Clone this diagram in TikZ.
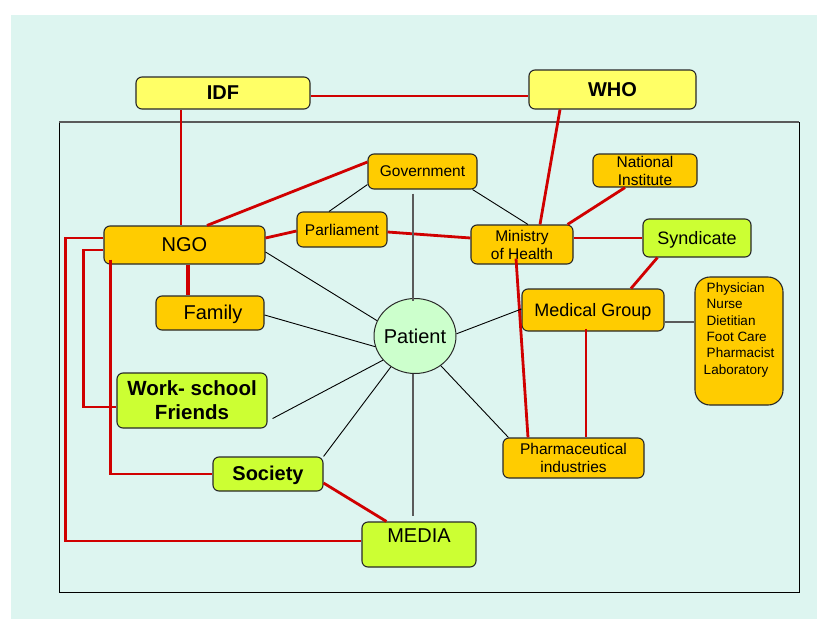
\documentclass[tikz,border=0pt]{standalone}
\usepackage{fontspec}
\setmainfont{Liberation Sans}
\usetikzlibrary{shapes.geometric,calc}
\definecolor{bgc}{RGB}{221,245,240}
\definecolor{orb}{RGB}{255,204,0}
\definecolor{ylb}{RGB}{255,255,102}
\definecolor{lmb}{RGB}{204,255,51}
\definecolor{ptg}{RGB}{204,255,204}
\definecolor{rdl}{RGB}{208,0,0}
\definecolor{gyl}{RGB}{90,90,90}
\definecolor{bdr}{RGB}{40,40,40}
\newcommand{\fsz}[2]{\fontsize{#1pt}{#2pt}\selectfont}
\tikzset{
  box/.style={draw=bdr, line width=1.1pt, rounded corners=6pt, inner sep=0pt, align=center, text=black},
  orangebox/.style={box, fill=orb},
  yellowbox/.style={box, fill=ylb},
  limebox/.style={box, fill=lmb},
  redline/.style={draw=rdl, line width=2.8pt},
  thickred/.style={draw=rdl, line width=3.6pt},
  thinline/.style={draw=black, line width=0.9pt},
  grayline/.style={draw=gyl, line width=2pt},
}
\begin{document}
\begin{tikzpicture}[x=1pt,y=-1pt]
\useasboundingbox (0,0) rectangle (817,619);
\fill[white] (0,0) rectangle (817,619);
\fill[bgc] (11,15) rectangle (817,619);
\draw[black, line width=0.9pt] (59,122) rectangle (799,592);
\draw[gyl, line width=2pt] (59,122) -- (799,122);

% nodes
\node[yellowbox, minimum width=174pt, minimum height=32pt, font=\fsz{20}{24}\bfseries] (idf) at (223,93) {IDF};
\node[yellowbox, minimum width=167pt, minimum height=39pt, font=\fsz{20}{24}\bfseries] (who) at (612.5,89.5) {WHO};
\node[orangebox, minimum width=109pt, minimum height=35pt, text depth=1pt, font=\fsz{15.5}{18}] (gov) at (422.5,171.5) {Government};
\node[orangebox, minimum width=90pt, minimum height=35pt, font=\fsz{15.5}{18}] (parl) at (342,229.5) {Parliament};
\node[orangebox, minimum width=161pt, minimum height=38pt, font=\fsz{20}{24}] (ngo) at (184.5,245) {NGO};
\node[orangebox, minimum width=102pt, minimum height=39pt, font=\fsz{15.5}{18}] (mini) at (522,244.5) {Ministry\\of Health};
\node[orangebox, minimum width=104pt, minimum height=33pt, font=\fsz{15.5}{18}] (natl) at (645,170.5) {National\\Institute};
\node[limebox, minimum width=108pt, minimum height=38pt, text depth=1pt, font=\fsz{18}{22}] (synd) at (697,238) {Syndicate};
\node[orangebox, minimum width=108pt, minimum height=34pt, text depth=1pt, font=\fsz{20}{24}] (family) at (210,313) {\hspace*{6pt}Family};
\node[orangebox, minimum width=142pt, minimum height=42pt, text depth=1pt, font=\fsz{18}{22}] (medg) at (593,310) {Medical Group};
\node[orangebox, rounded corners=15pt, minimum width=88pt, minimum height=128pt, align=left, text depth=25pt, font=\fsz{13.5}{16.3}] (staff) at (739,341)
  {\hspace*{3pt}Physician\\\hspace*{3pt}Nurse\\\hspace*{3pt}Dietitian\\\hspace*{3pt}Foot Care\\\hspace*{3pt}Pharmacist\\Laboratory};
\node[ellipse, draw=bdr, line width=1pt, fill=ptg, inner sep=0pt, minimum width=82pt, minimum height=75pt, font=\fsz{20}{24}] (patient) at (415,336) {\makebox[0pt]{\raisebox{-2pt}{Patient}}};
\node[limebox, minimum width=150pt, minimum height=55pt, font=\fsz{20.5}{24}\bfseries] (work) at (192,400.5) {Work- school\\Friends};
\node[limebox, minimum width=110pt, minimum height=34pt, text depth=1pt, font=\fsz{20}{24}\bfseries] (society) at (268,474) {Society};
\node[orangebox, minimum width=141pt, minimum height=40pt, font=\fsz{15.5}{18}] (pharma) at (573.5,458) {Pharmaceutical\\industries};
\node[limebox, minimum width=114pt, minimum height=45pt, text depth=17pt, font=\fsz{20}{24}] (media) at (419,544.5) {MEDIA};

% red connectors
\draw[redline] ($(idf.east)+(0,3)$) -- ($(who.west)+(0,6.5)$);
\draw[redline] ($(idf.south)+(-42,0)$) -- ($(ngo.north)+(-3.5,0)$);
\draw[redline] ($(who.south)+(-52.5,0)$) -- ($(mini.north)+(18,0)$);
\draw[redline] ($(gov.west)+(0,-9.5)$) -- ($(ngo.north)+(22.5,0)$);
\draw[redline] ($(ngo.east)+(0,-7)$) -- ($(parl.west)+(0,1.5)$);
\draw[redline] ($(parl.east)+(0,2.5)$) -- ($(mini.west)+(0,-6.5)$);
\draw[thickred] ($(ngo.south)+(3.5,0)$) -- ($(family.north)+(-22,0)$);
\draw[redline] ($(ngo.west)+(0,-7)$) -- ++(-38,0) |- ($(media.west)+(0,-3.5)$);
\draw[redline] ($(ngo.west)+(0,5)$) -- ++(-20,0) |- ($(work.west)+(0,6.5)$);
\draw[redline] ($(ngo.south west)+(7,-5)$) |- (society.west);
\draw[redline] ($(society.east)+(0,9)$) -- ($(media.north west)+(25,0)$);
\draw[redline] ($(mini.north east)+(-6,0)$) -- ($(natl.south)+(-20,0)$);
\draw[redline] ($(mini.east)+(0,-6.5)$) -- (synd.west);
\draw[redline] ($(synd.south west)+(15,0)$) -- ($(medg.north)+(38,0)$);
\draw[redline] ($(mini.south)+(-6,-6)$) -- ($(pharma.north)+(-45.5,0)$);
\draw[redline] ($(medg.south)+(-7,-3)$) -- ($(pharma.north)+(12.5,0)$);

% black connectors
\draw[thinline] ($(gov.south west)+(0,-5)$) -- ($(parl.north)+(-13,0)$);
\draw[thinline] ($(gov.south east)+(-5,0)$) -- ($(mini.north)+(6,0)$);
\draw[thinline] ($(ngo.east)+(0,7)$) -- (patient.158);
\draw[thinline] ($(family.east)+(0,2)$) -- (patient.195);
\draw[thinline] ($(work.south east)+(5,-10)$) -- (patient.217);
\draw[thinline] (society.north east) -- (patient.232);
\draw[thinline] (patient.3) -- ($(medg.west)+(0,-1)$);
\draw[thinline] (patient.311) -- ($(pharma.north west)+(6,0)$);

% gray connectors
\draw[grayline] ($(gov.south)+(-9.5,4)$) -- ($(patient.north)+(-2,3)$);
\draw[grayline] ($(patient.south)+(-2,0)$) -- ($(media.north)+(-6,-5)$);
\draw[grayline] ($(medg.east)+(0,12)$) -- ($(staff.west)+(0,-19)$);
\end{tikzpicture}
\end{document}
